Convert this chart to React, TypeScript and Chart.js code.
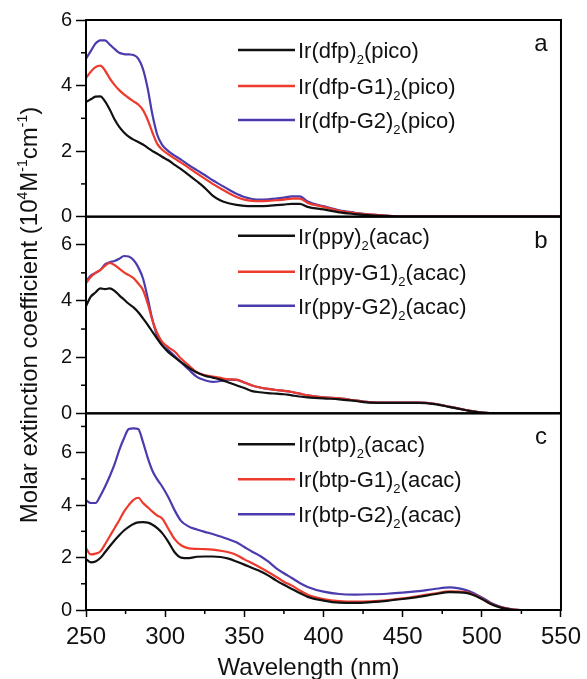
import React, { useEffect, useRef } from 'react';
import { Chart, registerables } from 'chart.js';

Chart.register(...registerables);

const FONT = '"Liberation Sans", Arial, Helvetica, sans-serif';

// Wavelength grid (nm)
const WAVELENGTH = [250, 253, 256, 259, 262, 265, 268, 271, 274, 277, 280, 283, 286, 289, 292, 295, 298, 302, 306, 310, 315, 320, 325, 330, 335, 340, 345, 350, 355, 360, 365, 370, 375, 380, 385, 390, 400, 410, 420, 430, 440, 450, 460, 470, 480, 490, 495, 500, 505, 510, 515, 520, 530, 540, 550];

// Panel a
const DFP = [3.50, 3.58, 3.66, 3.67, 3.52, 3.27, 2.97, 2.74, 2.57, 2.44, 2.35, 2.28, 2.20, 2.10, 2.00, 1.92, 1.83, 1.72, 1.58, 1.45, 1.27, 1.08, 0.88, 0.64, 0.49, 0.41, 0.36, 0.33, 0.32, 0.32, 0.33, 0.35, 0.37, 0.39, 0.39, 0.30, 0.22, 0.13, 0.08, 0.04, 0.02, 0, 0, 0, 0, 0, 0, 0, 0, 0, 0, 0, 0, 0, 0];
const DFP_G1 = [4.23, 4.42, 4.56, 4.61, 4.46, 4.22, 4.02, 3.86, 3.73, 3.62, 3.52, 3.42, 3.25, 2.95, 2.56, 2.22, 2.05, 1.90, 1.77, 1.65, 1.49, 1.32, 1.16, 1.00, 0.86, 0.72, 0.60, 0.52, 0.48, 0.47, 0.48, 0.50, 0.52, 0.55, 0.55, 0.42, 0.30, 0.18, 0.11, 0.06, 0.03, 0, 0, 0, 0, 0, 0, 0, 0, 0, 0, 0, 0, 0, 0];
const DFP_G2 = [4.82, 5.05, 5.28, 5.38, 5.38, 5.25, 5.12, 5.00, 4.96, 4.95, 4.93, 4.82, 4.50, 3.90, 3.10, 2.50, 2.20, 2.00, 1.86, 1.74, 1.57, 1.42, 1.27, 1.11, 0.97, 0.83, 0.70, 0.60, 0.54, 0.52, 0.53, 0.55, 0.58, 0.62, 0.62, 0.46, 0.32, 0.19, 0.12, 0.06, 0.03, 0, 0, 0, 0, 0, 0, 0, 0, 0, 0, 0, 0, 0, 0];

// Panel b
const PPY = [3.82, 4.15, 4.30, 4.45, 4.42, 4.45, 4.36, 4.20, 4.05, 3.90, 3.77, 3.60, 3.38, 3.15, 2.90, 2.65, 2.42, 2.18, 2.00, 1.82, 1.62, 1.45, 1.34, 1.27, 1.20, 1.10, 1.00, 0.90, 0.79, 0.75, 0.72, 0.70, 0.68, 0.64, 0.60, 0.57, 0.53, 0.50, 0.44, 0.38, 0.37, 0.37, 0.37, 0.33, 0.22, 0.11, 0.06, 0.03, 0.01, 0, 0, 0, 0, 0, 0];
const PPY_G1 = [4.63, 4.85, 5.00, 5.10, 5.25, 5.35, 5.28, 5.15, 5.02, 4.92, 4.81, 4.62, 4.39, 3.90, 3.30, 2.85, 2.55, 2.35, 2.20, 1.95, 1.70, 1.46, 1.36, 1.31, 1.26, 1.21, 1.20, 1.10, 0.99, 0.92, 0.87, 0.83, 0.80, 0.76, 0.70, 0.64, 0.57, 0.53, 0.46, 0.39, 0.38, 0.38, 0.38, 0.34, 0.23, 0.12, 0.07, 0.03, 0.01, 0, 0, 0, 0, 0, 0];
const PPY_G2 = [4.70, 4.90, 5.00, 5.10, 5.30, 5.38, 5.42, 5.50, 5.60, 5.58, 5.46, 5.20, 4.80, 4.10, 3.32, 2.75, 2.45, 2.25, 2.04, 1.82, 1.55, 1.30, 1.18, 1.12, 1.15, 1.20, 1.19, 1.10, 0.99, 0.92, 0.87, 0.83, 0.80, 0.76, 0.70, 0.64, 0.57, 0.53, 0.46, 0.39, 0.38, 0.38, 0.38, 0.34, 0.23, 0.12, 0.07, 0.03, 0.01, 0, 0, 0, 0, 0, 0];

// Panel c
const BTP = [1.94, 1.82, 1.85, 1.98, 2.20, 2.43, 2.65, 2.85, 3.03, 3.17, 3.28, 3.34, 3.35, 3.33, 3.25, 3.12, 2.94, 2.60, 2.20, 2.00, 1.98, 2.03, 2.04, 2.04, 2.02, 1.96, 1.85, 1.73, 1.60, 1.48, 1.32, 1.13, 0.96, 0.80, 0.65, 0.50, 0.36, 0.28, 0.27, 0.30, 0.35, 0.42, 0.50, 0.60, 0.68, 0.65, 0.56, 0.42, 0.25, 0.13, 0.05, 0.01, 0, 0, 0];
const BTP_G1 = [2.36, 2.12, 2.15, 2.23, 2.50, 2.81, 3.12, 3.42, 3.75, 4.00, 4.20, 4.28, 4.08, 3.92, 3.75, 3.60, 3.50, 3.10, 2.70, 2.47, 2.35, 2.33, 2.32, 2.30, 2.26, 2.20, 2.10, 1.93, 1.78, 1.62, 1.45, 1.27, 1.08, 0.93, 0.75, 0.58, 0.42, 0.34, 0.32, 0.33, 0.37, 0.44, 0.53, 0.63, 0.71, 0.68, 0.58, 0.44, 0.27, 0.14, 0.06, 0.02, 0, 0, 0];
const BTP_G2 = [4.19, 4.08, 4.08, 4.35, 4.70, 5.10, 5.55, 6.10, 6.55, 6.90, 6.93, 6.90, 6.40, 5.80, 5.30, 4.98, 4.72, 4.30, 3.80, 3.40, 3.18, 3.07, 2.98, 2.90, 2.80, 2.70, 2.58, 2.40, 2.22, 2.06, 1.85, 1.60, 1.40, 1.22, 1.03, 0.88, 0.70, 0.61, 0.59, 0.60, 0.62, 0.66, 0.72, 0.80, 0.86, 0.76, 0.64, 0.48, 0.30, 0.16, 0.07, 0.02, 0, 0, 0];

// Legend labels: [main, subscript, tail]
const LEGEND_A = [['Ir(dfp)', '2', '(pico)'], ['Ir(dfp-G1)', '2', '(pico)'], ['Ir(dfp-G2)', '2', '(pico)']];
const LEGEND_B = [['Ir(ppy)', '2', '(acac)'], ['Ir(ppy-G1)', '2', '(acac)'], ['Ir(ppy-G2)', '2', '(acac)']];
const LEGEND_C = [['Ir(btp)', '2', '(acac)'], ['Ir(btp-G1)', '2', '(acac)'], ['Ir(btp-G2)', '2', '(acac)']];

const PANEL_LETTERS = ['a', 'b', 'c'];
const PANEL_MAX = [6, 7, 7.5];
const X_TICKS = [250, 300, 350, 400, 450, 500, 550];
const Y_TICKS = [0, 2, 4, 6];

const COLORS = ['#111111', '#ee3a2c', '#4b3cae'];

type Run = { t: string; k?: 'sup' | 'sub' };

function drawRuns(ctx: CanvasRenderingContext2D, runs: Run[], x: number, y: number, size: number, align: 'left' | 'center') {
  const small = Math.round(size * 0.6);
  const widths = runs.map((r) => {
    ctx.font = `${r.k ? small : size}px ${FONT}`;
    return ctx.measureText(r.t).width;
  });
  const total = widths.reduce((a, b) => a + b, 0);
  let cx = align === 'center' ? x - total / 2 : x;
  ctx.textAlign = 'left';
  ctx.textBaseline = 'alphabetic';
  runs.forEach((r, i) => {
    ctx.font = `${r.k ? small : size}px ${FONT}`;
    const dy = r.k === 'sup' ? -size * 0.4 : r.k === 'sub' ? size * 0.28 : 0;
    ctx.fillText(r.t, cx, y + dy);
    cx += widths[i];
  });
}

const PANEL_IDS = ['yA', 'yB', 'yC'];
const LEGENDS = [LEGEND_A, LEGEND_B, LEGEND_C];
const LEGEND_OFFSETS = [[30, 66, 100], [19, 55, 89], [31, 66, 101]];

const decorPlugin = {
  id: 'decor',
  afterDatasetsDraw(chart: any) {
    const ctx: CanvasRenderingContext2D = chart.ctx;
    const area = chart.chartArea;
    const xs = chart.scales.x;
    ctx.save();
    ctx.fillStyle = '#111';
    ctx.strokeStyle = '#000';

    PANEL_IDS.forEach((id, p) => {
      const s = chart.scales[id];
      // panel frame
      ctx.lineWidth = 2;
      ctx.strokeRect(area.left, s.top, area.right - area.left, s.bottom - s.top);
      // minor y ticks
      ctx.lineWidth = 1.5;
      for (let v = 1; v < PANEL_MAX[p]; v += 2) {
        const py = s.getPixelForValue(v);
        ctx.beginPath();
        ctx.moveTo(area.left - 5, py);
        ctx.lineTo(area.left, py);
        ctx.stroke();
      }
      // letter
      ctx.font = `24px ${FONT}`;
      ctx.textAlign = 'center';
      ctx.textBaseline = 'alphabetic';
      ctx.fillText(PANEL_LETTERS[p], area.right - 20, s.top + 31);
      // legend
      LEGENDS[p].forEach((lab, j) => {
        const ly = s.top + LEGEND_OFFSETS[p][j];
        ctx.strokeStyle = COLORS[j];
        ctx.lineWidth = 2.5;
        ctx.beginPath();
        ctx.moveTo(238, ly);
        ctx.lineTo(295, ly);
        ctx.stroke();
        ctx.fillStyle = '#111';
        drawRuns(ctx, [{ t: lab[0] }, { t: lab[1], k: 'sub' }, { t: lab[2] }], 298, ly + 8, 22, 'left');
      });
      ctx.strokeStyle = '#000';
    });

    // minor x ticks
    ctx.lineWidth = 1.5;
    for (let v = 275; v < 550; v += 50) {
      const px = xs.getPixelForValue(v);
      ctx.beginPath();
      ctx.moveTo(px, area.bottom);
      ctx.lineTo(px, area.bottom + 4);
      ctx.stroke();
    }

    // y title
    ctx.fillStyle = '#111';
    ctx.save();
    ctx.translate(37, (area.top + area.bottom) / 2);
    ctx.rotate(-Math.PI / 2);
    drawRuns(ctx, [
      { t: 'Molar extinction coefficient (10' },
      { t: '4', k: 'sup' },
      { t: 'M' },
      { t: '-1', k: 'sup' },
      { t: 'cm' },
      { t: '-1', k: 'sup' },
      { t: ')' },
    ], 0, 0, 24, 'center');
    ctx.restore();

    // x title
    drawRuns(ctx, [{ t: 'Wavelength (nm)' }], (area.left + area.right) / 2 - 15, area.bottom + 65, 24, 'center');
    ctx.restore();
  },
};

function yScale(max: number, weight: number) {
  return {
    type: 'linear',
    position: 'left',
    stack: 'panels',
    stackWeight: 1,
    weight,
    min: 0,
    max,
    afterBuildTicks: (s: any) => {
      s.ticks = Y_TICKS.filter((v) => v <= max).map((v) => ({ value: v }));
    },
    afterFit: (s: any) => {
      s.width = 86;
    },
    ticks: {
      font: { size: 20, family: FONT },
      color: '#111',
      padding: 4,
    },
    grid: {
      drawOnChartArea: false,
      tickLength: 10,
      tickColor: '#000',
      tickWidth: 1.5,
    },
    border: { display: false },
  };
}

export default function App() {
  const ref = useRef<HTMLCanvasElement>(null);

  useEffect(() => {
    if (!ref.current) return;
    const series = [
      { id: 'yA', names: LEGEND_A, data: [DFP, DFP_G1, DFP_G2] },
      { id: 'yB', names: LEGEND_B, data: [PPY, PPY_G1, PPY_G2] },
      { id: 'yC', names: LEGEND_C, data: [BTP, BTP_G1, BTP_G2] },
    ];
    const datasets: any[] = [];
    series.forEach((p) => {
      p.data.forEach((arr, j) => {
        datasets.push({
          label: p.names[j].join(''),
          yAxisID: p.id,
          data: WAVELENGTH.map((x, i) => ({ x, y: arr[i] })),
          borderColor: COLORS[j],
          borderWidth: 2.2,
          pointRadius: 0,
          fill: false,
          cubicInterpolationMode: 'monotone',
        });
      });
    });

    const chart = new Chart(ref.current, {
      type: 'line',
      data: { datasets },
      options: {
        animation: false,
        responsive: false,
        layout: { padding: { left: 0, right: 22, top: 20, bottom: 0 } },
        plugins: { legend: { display: false }, tooltip: { enabled: false }, title: { display: false } },
        scales: {
          x: {
            type: 'linear',
            position: 'bottom',
            min: 250,
            max: 550,
            afterBuildTicks: (s: any) => {
              s.ticks = X_TICKS.map((v) => ({ value: v }));
            },
            afterFit: (s: any) => {
              s.height = 90;
            },
            ticks: {
              font: { size: 24, family: FONT },
              color: '#111',
              padding: 6,
              maxRotation: 0,
            },
            grid: {
              drawOnChartArea: false,
              tickLength: 7,
              tickColor: '#000',
              tickWidth: 1.5,
            },
            border: { display: false },
          },
          yC: yScale(PANEL_MAX[2], 1),
          yB: yScale(PANEL_MAX[1], 2),
          yA: yScale(PANEL_MAX[0], 3),
        } as any,
      },
      plugins: [decorPlugin],
    });
    return () => chart.destroy();
  }, []);

  return (
    <canvas
      ref={ref}
      width={587}
      height={700}
      style={{ position: 'fixed', left: 0, top: 0, width: 587, height: 700, background: '#fff' }}
    />
  );
}
